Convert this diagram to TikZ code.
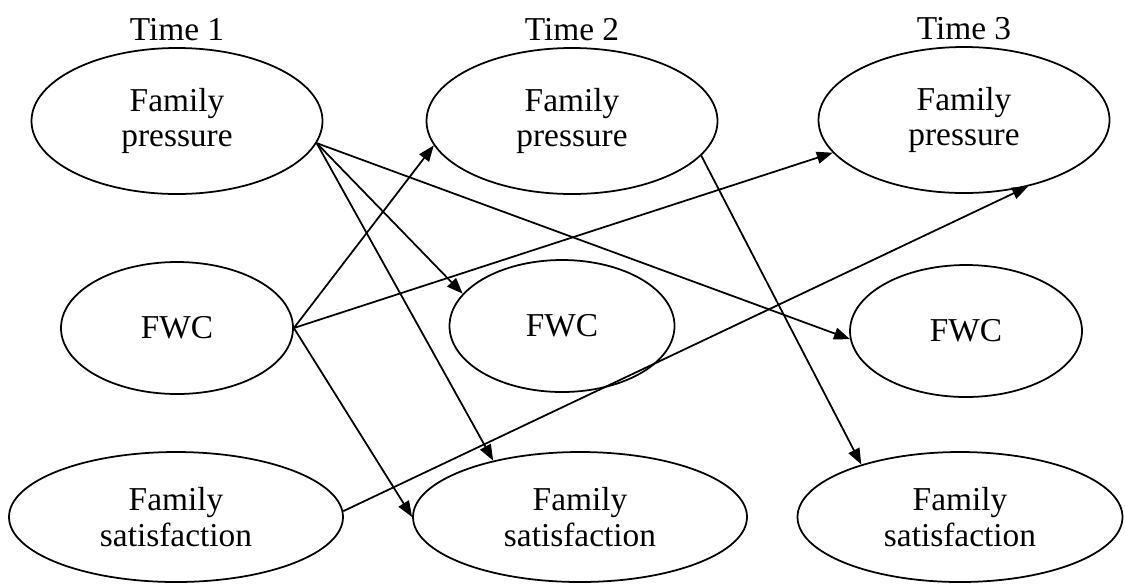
\documentclass[tikz,border=0pt]{standalone}
\usepackage{fontspec}
\setmainfont{Liberation Serif}
\usetikzlibrary{shapes.geometric, positioning, arrows.meta}
\tikzset{
	>={Triangle[length=0.32cm, width=0.24cm]}, % filled arrow heads
	construct/.style={ellipse, draw, line width=1pt, inner sep=0pt, align=center, font=\fontsize{19}{20}\selectfont}, % every latent variable
	pressure/.style={construct, minimum width=5.82cm, minimum height=2.92cm},
	conflict/.style={construct, minimum width=4.64cm, minimum height=2.64cm},
	satisfy/.style={construct, minimum width=6.68cm, minimum height=2.6cm},
	wave/.style={font=\fontsize{19}{20}\selectfont}, % the time labels
	link/.style={->, line width=1pt},
}
\begin{document}
\begin{tikzpicture}
	\useasboundingbox (0,0) rectangle (22.5,-11.68);
			\node[pressure] at (3.54,-2.42) (fp1) {Family\\pressure};
			\node[conflict] at (3.54,-6.56) (fwc1) {FWC};
			\node[satisfy] at (3.52,-10.34) (fs1) {Family\\satisfaction};
			\node[pressure] at (11.44,-2.42) (fp2) {Family\\pressure};
			\node[conflict, minimum width=4.5cm] at (11.24,-6.52) (fwc2) {FWC};
			\node[satisfy] at (11.6,-10.34) (fs2) {Family\\satisfaction};
			\node[pressure] at (19.28,-2.40) (fp3) {Family\\pressure};
			\node[conflict] at (19.32,-6.62) (fwc3) {FWC};
			\node[satisfy, minimum width=6.5cm] at (19.2,-10.34) (fs3) {Family\\satisfaction};
			\node[wave, above=0.0cm of fp1] (time1) {Time 1};
			\node[wave, above=0.0cm of fp2] (time2) {Time 2};
			\node[wave, above=0.0cm of fp3] (time3) {Time 3};
	\path[link] (fp1.-9) edge (fwc2.162)
			(fp1.-9) edge (fs2.147)
			(fp1.-9) edge (fwc3.184)
			(fwc1.east) edge (fp2.190)
			(fwc1.east) edge (fp3.194)
			(fwc1.east) edge (fs2.180)
			(fs1.2) edge (fp3.-46)
			(fp2.-15) edge (fs3.152);
\end{tikzpicture}
\end{document}
